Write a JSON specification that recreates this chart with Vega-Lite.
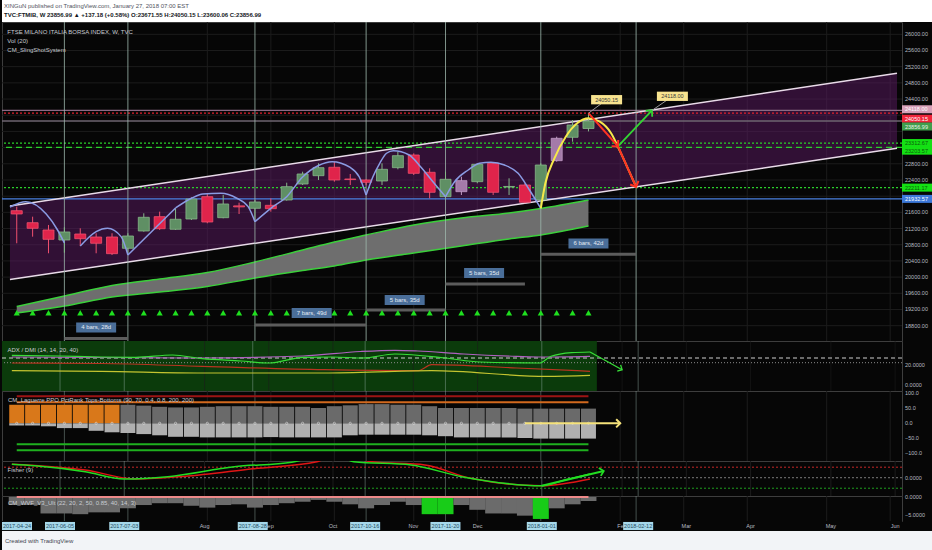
{
  "$schema": "https://vega.github.io/schema/vega-lite/v6.json",
  "background": "#060606",
  "padding": 0,
  "spacing": 0,
  "bounds": "flush",
  "resolve": {"scale": {"color": "independent", "stroke": "independent", "fill": "independent", "strokeDash": "independent"}},
  "config": {
    "font": "Liberation Sans",
    "view": {"stroke": "#3d3d3d", "fill": "#060606"},
    "legend": {"disable": true},
    "title": {"anchor": "start", "fontWeight": "normal", "fontSize": 6, "color": "#c9ccd3", "dx": 6}
  },
  "datasets": {
    "candles": [
      {"d":"2017-05-15","o":21641,"h":21740,"l":20836,"c":21560,"k":"dn"},
      {"d":"2017-05-22","o":21345,"h":21493,"l":20999,"c":21206,"k":"dn"},
      {"d":"2017-05-29","o":21164,"h":21288,"l":20589,"c":20934,"k":"dn"},
      {"d":"2017-06-05","o":20917,"h":21231,"l":20603,"c":21115,"k":"up"},
      {"d":"2017-06-12","o":21065,"h":21206,"l":20769,"c":20949,"k":"dn"},
      {"d":"2017-06-19","o":20991,"h":21083,"l":20589,"c":20836,"k":"dn"},
      {"d":"2017-06-26","o":20991,"h":21083,"l":20546,"c":20579,"k":"dn"},
      {"d":"2017-07-03","o":20712,"h":21083,"l":20546,"c":21016,"k":"up"},
      {"d":"2017-07-10","o":21140,"h":21577,"l":21123,"c":21478,"k":"up"},
      {"d":"2017-07-17","o":21493,"h":21617,"l":21164,"c":21196,"k":"dn"},
      {"d":"2017-07-24","o":21182,"h":21700,"l":21164,"c":21429,"k":"up"},
      {"d":"2017-07-31","o":21436,"h":21972,"l":21411,"c":21930,"k":"up"},
      {"d":"2017-08-07","o":21987,"h":22071,"l":21330,"c":21362,"k":"dn"},
      {"d":"2017-08-14","o":21468,"h":22029,"l":21453,"c":21807,"k":"up"},
      {"d":"2017-08-21","o":21760,"h":21839,"l":21559,"c":21735,"k":"dn"},
      {"d":"2017-08-28","o":21700,"h":21906,"l":21369,"c":21856,"k":"up"},
      {"d":"2017-09-04","o":21774,"h":21947,"l":21617,"c":21691,"k":"dn"},
      {"d":"2017-09-11","o":21906,"h":22333,"l":21889,"c":22234,"k":"up"},
      {"d":"2017-09-18","o":22301,"h":22605,"l":22276,"c":22548,"k":"up"},
      {"d":"2017-09-25","o":22506,"h":22812,"l":22400,"c":22704,"k":"up"},
      {"d":"2017-10-02","o":22714,"h":22852,"l":22358,"c":22400,"k":"dn"},
      {"d":"2017-10-09","o":22425,"h":22548,"l":22276,"c":22410,"k":"dn"},
      {"d":"2017-10-16","o":22400,"h":22417,"l":22276,"c":22343,"k":"dn"},
      {"d":"2017-10-23","o":22375,"h":22812,"l":22276,"c":22664,"k":"up"},
      {"d":"2017-10-30","o":22704,"h":23099,"l":22664,"c":23000,"k":"up"},
      {"d":"2017-11-06","o":23017,"h":23058,"l":22523,"c":22565,"k":"dn"},
      {"d":"2017-11-13","o":22590,"h":22689,"l":21947,"c":22096,"k":"dn"},
      {"d":"2017-11-20","o":21987,"h":22605,"l":21947,"c":22417,"k":"up"},
      {"d":"2017-11-27","o":22111,"h":22481,"l":22029,"c":22383,"k":"alt"},
      {"d":"2017-12-04","o":22358,"h":22812,"l":22318,"c":22788,"k":"up"},
      {"d":"2017-12-11","o":22812,"h":22837,"l":22029,"c":22096,"k":"dn"},
      {"d":"2017-12-18","o":22225,"h":22442,"l":22029,"c":22240,"k":"up"},
      {"d":"2017-12-25","o":22276,"h":22318,"l":21824,"c":21849,"k":"dn"},
      {"d":"2018-01-01","o":21906,"h":22812,"l":21864,"c":22770,"k":"up"},
      {"d":"2018-01-08","o":22877,"h":23470,"l":22852,"c":23430,"k":"alt"},
      {"d":"2018-01-15","o":23455,"h":23882,"l":23346,"c":23759,"k":"up"},
      {"d":"2018-01-22","o":23671.55,"h":24050.15,"l":23600.06,"c":23856.99,"k":"up"}
    ],
    "pticks": [
      {"v":18800},{"v":19200},{"v":19600},{"v":20000},{"v":20400},{"v":20800},{"v":21200},{"v":21600},{"v":22000},{"v":22400},{"v":22800},{"v":23200},{"v":23600},{"v":24000},{"v":24400},{"v":24800},{"v":25200},{"v":25600},{"v":26000}
    ],
    "ema": [
      {"d":"2017-05-15","e1":19274,"e2":19113},
      {"d":"2017-06-05","e1":19533,"e2":19286},
      {"d":"2017-06-26","e1":19793,"e2":19509},
      {"d":"2017-07-17","e1":19954,"e2":19632},
      {"d":"2017-08-07","e1":20114,"e2":19768},
      {"d":"2017-08-28","e1":20374,"e2":19978},
      {"d":"2017-09-18","e1":20670,"e2":20163},
      {"d":"2017-10-02","e1":20868,"e2":20275},
      {"d":"2017-10-16","e1":21041,"e2":20423},
      {"d":"2017-11-06","e1":21288,"e2":20596},
      {"d":"2017-11-27","e1":21461,"e2":20769},
      {"d":"2017-12-18","e1":21584,"e2":20942},
      {"d":"2018-01-01","e1":21696,"e2":21041},
      {"d":"2018-01-22","e1":21906,"e2":21263}
    ],
    "channel": [
      {"d":"2017-05-12","up":21757,"lo":19941},
      {"d":"2018-06-07","up":25036,"lo":23183}
    ],
    "arcs": [
      {"a":"A","d":"2017-05-12","p":21733},{"a":"A","d":"2017-05-19","p":21864},{"a":"A","d":"2017-05-28","p":21560},{"a":"A","d":"2017-06-02","p":21164},{"a":"A","d":"2017-06-05","p":20843},
      {"a":"B","d":"2017-06-12","p":20769},{"a":"B","d":"2017-06-19","p":21123},{"a":"B","d":"2017-06-24","p":21206},{"a":"B","d":"2017-06-30","p":21000},{"a":"B","d":"2017-07-03","p":20546},
      {"a":"C","d":"2017-07-03","p":20546},{"a":"C","d":"2017-07-24","p":21708},
      {"a":"D","d":"2017-07-24","p":21708},{"a":"D","d":"2017-07-31","p":21948},{"a":"D","d":"2017-08-05","p":22054},{"a":"D","d":"2017-08-13","p":22071},{"a":"D","d":"2017-08-20","p":21948},{"a":"D","d":"2017-08-25","p":21740},{"a":"D","d":"2017-08-28","p":21369},
      {"a":"E","d":"2017-08-28","p":21369},{"a":"E","d":"2017-09-04","p":21700},{"a":"E","d":"2017-09-11","p":21987},{"a":"E","d":"2017-09-18","p":22474},{"a":"E","d":"2017-09-25","p":22758},{"a":"E","d":"2017-10-01","p":22852},{"a":"E","d":"2017-10-09","p":22709},{"a":"E","d":"2017-10-13","p":22474},{"a":"E","d":"2017-10-16","p":22029},
      {"a":"F","d":"2017-10-16","p":22029},{"a":"F","d":"2017-10-19","p":22481},{"a":"F","d":"2017-10-22","p":22812},{"a":"F","d":"2017-10-25","p":23060},{"a":"F","d":"2017-10-28","p":23124},{"a":"F","d":"2017-11-04","p":23018},{"a":"F","d":"2017-11-09","p":22728},{"a":"F","d":"2017-11-15","p":22318},{"a":"F","d":"2017-11-20","p":21987},
      {"a":"G","d":"2017-11-20","p":21987},{"a":"G","d":"2017-11-24","p":22358},{"a":"G","d":"2017-11-30","p":22647},{"a":"G","d":"2017-12-05","p":22812},{"a":"G","d":"2017-12-10","p":22837},{"a":"G","d":"2017-12-16","p":22770},{"a":"G","d":"2017-12-22","p":22565},{"a":"G","d":"2017-12-27","p":22153},{"a":"G","d":"2018-01-01","p":21700}
    ],
    "yarc": [
      {"d":"2018-01-01","p":21700},{"d":"2018-01-03","p":22318},{"d":"2018-01-07","p":22936},{"d":"2018-01-12","p":23470},{"d":"2018-01-17","p":23801},{"d":"2018-01-22","p":23924},{"d":"2018-01-27","p":23840},{"d":"2018-02-01","p":23554},{"d":"2018-02-05","p":23099},{"d":"2018-02-09","p":22605},{"d":"2018-02-12","p":22230}
    ],
    "redpath": [
      {"d":"2018-01-22","p":24050.15},{"d":"2018-02-04","p":23230},{"d":"2018-02-12","p":22230}
    ],
    "greenarrow": [
      {"d":"2018-02-04","p":23230},{"d":"2018-02-19","p":24118}
    ],
    "callouts": [
      {"d":"2018-01-30","p":24384,"d2":"2018-01-22","p2":24050.15,"lab":"24050.15"},
      {"d":"2018-02-28","p":24468,"d2":"2018-02-19","p2":24118,"lab":"24118.00"}
    ],
    "measures": [
      {"d":"2017-06-05","d2":"2017-07-03","bp":18480,"ld":"2017-06-19","lp":18755,"lab":"4 bars, 28d"},
      {"d":"2017-08-28","d2":"2017-10-16","bp":18817,"ld":"2017-09-22","lp":19113,"lab":"7 bars, 49d"},
      {"d":"2017-10-16","d2":"2017-11-20","bp":19187,"ld":"2017-11-02","lp":19435,"lab":"5 bars, 35d"},
      {"d":"2017-11-20","d2":"2017-12-25","bp":19830,"ld":"2017-12-07","lp":20102,"lab":"5 bars, 35d"},
      {"d":"2018-01-01","d2":"2018-02-12","bp":20564,"ld":"2018-01-22","lp":20831,"lab":"6 bars, 42d"}
    ],
    "levels": [
      {"p":24118.00,"k":"tgt","lab":"24118.00"},
      {"p":24050.15,"k":"hi","lab":"24050.15"},
      {"p":23856.99,"k":"last","lab":"23856.99"},
      {"p":23312.67,"k":"g1","lab":"23312.67"},
      {"p":23203.57,"k":"g2","lab":"23203.57"},
      {"p":22211.17,"k":"g3","lab":"22211.17"},
      {"p":21932.57,"k":"base","lab":"21932.57"}
    ],
    "events": [
      {"d":"2017-06-05"},{"d":"2017-07-03"},{"d":"2017-08-28"},{"d":"2017-10-16"},{"d":"2017-11-20"},{"d":"2018-01-01"},{"d":"2018-02-12"}
    ],
    "xboxes": [
      {"d":"2017-04-24","lab":"2017-04-24"},{"d":"2017-06-05","lab":"2017-06-05"},{"d":"2017-07-03","lab":"2017-07-03"},{"d":"2017-08-28","lab":"2017-08-28"},{"d":"2017-10-16","lab":"2017-10-16"},{"d":"2017-11-20","lab":"2017-11-20"},{"d":"2018-01-01","lab":"2018-01-01"},{"d":"2018-02-12","lab":"2018-02-12"}
    ],
    "months": [
      {"d":"2017-08-07","lab":"Aug"},{"d":"2017-09-04","lab":"Sep"},{"d":"2017-10-02","lab":"Oct"},{"d":"2017-11-06","lab":"Nov"},{"d":"2017-12-04","lab":"Dec"},{"d":"2018-02-05","lab":"Feb"},{"d":"2018-03-05","lab":"Mar"},{"d":"2018-04-02","lab":"Apr"},{"d":"2018-05-07","lab":"May"},{"d":"2018-06-04","lab":"Jun"}
    ],
    "adx": [
      {"s":"pur","d":"2017-05-15","v":28},{"s":"pur","d":"2017-06-23","v":27.5},{"s":"pur","d":"2017-08-06","v":27},{"s":"pur","d":"2017-09-19","v":29},{"s":"pur","d":"2017-10-14","v":33.5},{"s":"pur","d":"2017-10-29","v":34.7},{"s":"pur","d":"2017-11-08","v":34},{"s":"pur","d":"2017-11-28","v":31},{"s":"pur","d":"2017-12-21","v":28.7},{"s":"pur","d":"2018-01-01","v":28},{"s":"pur","d":"2018-01-22","v":28.7},
      {"s":"grn","d":"2017-05-15","v":29.7},{"s":"grn","d":"2017-06-05","v":29},{"s":"grn","d":"2017-06-23","v":28},{"s":"grn","d":"2017-07-08","v":27.7},{"s":"grn","d":"2017-07-24","v":30},{"s":"grn","d":"2017-08-06","v":26.3},{"s":"grn","d":"2017-08-23","v":24},{"s":"grn","d":"2017-09-04","v":22},{"s":"grn","d":"2017-09-19","v":27.7},{"s":"grn","d":"2017-10-02","v":28},{"s":"grn","d":"2017-10-15","v":27},{"s":"grn","d":"2017-10-29","v":31},{"s":"grn","d":"2017-11-20","v":27},{"s":"grn","d":"2017-12-05","v":23},{"s":"grn","d":"2017-12-31","v":22},{"s":"grn","d":"2018-01-05","v":28.7},{"s":"grn","d":"2018-01-14","v":32.3},{"s":"grn","d":"2018-01-22","v":33},
      {"s":"red","d":"2017-05-15","v":22},{"s":"red","d":"2017-06-23","v":21.5},{"s":"red","d":"2017-08-06","v":18.7},{"s":"red","d":"2017-09-28","v":15.3},{"s":"red","d":"2017-11-08","v":14.3},{"s":"red","d":"2017-11-14","v":20.3},{"s":"red","d":"2017-12-21","v":17},{"s":"red","d":"2018-01-22","v":13.7},
      {"s":"yel","d":"2017-05-15","v":14.3},{"s":"yel","d":"2017-06-23","v":13.7},{"s":"yel","d":"2017-08-06","v":12},{"s":"yel","d":"2017-09-28","v":12},{"s":"yel","d":"2017-11-14","v":14.3},{"s":"yel","d":"2018-01-03","v":8.7},{"s":"yel","d":"2018-01-22","v":9.7}
    ],
    "lag": [
      {"d":"2017-05-15","t":62,"b":-7,"k":"or"},{"d":"2017-05-22","t":62,"b":-7,"k":"or"},{"d":"2017-05-29","t":62,"b":-10,"k":"or"},{"d":"2017-06-05","t":62,"b":-16,"k":"or"},{"d":"2017-06-12","t":62,"b":-16,"k":"or"},{"d":"2017-06-19","t":62,"b":-25,"k":"or"},{"d":"2017-06-26","t":62,"b":-30,"k":"or"},
      {"d":"2017-07-03","t":62,"b":-32,"k":"gr"},{"d":"2017-07-10","t":59,"b":-36,"k":"gr"},{"d":"2017-07-17","t":55,"b":-40,"k":"gr"},{"d":"2017-07-24","t":53,"b":-45,"k":"gr"},{"d":"2017-07-31","t":53,"b":-45,"k":"gr"},{"d":"2017-08-07","t":55,"b":-47,"k":"gr"},{"d":"2017-08-14","t":57,"b":-47,"k":"gr"},{"d":"2017-08-21","t":57,"b":-47,"k":"gr"},{"d":"2017-08-28","t":57,"b":-47,"k":"gr"},{"d":"2017-09-04","t":55,"b":-46,"k":"gr"},{"d":"2017-09-11","t":55,"b":-47,"k":"gr"},{"d":"2017-09-18","t":55,"b":-47,"k":"gr"},{"d":"2017-09-25","t":51,"b":-47,"k":"gr"},{"d":"2017-10-02","t":57,"b":-47,"k":"gr"},{"d":"2017-10-09","t":60,"b":-40,"k":"gr"},{"d":"2017-10-16","t":64,"b":-38,"k":"gr"},{"d":"2017-10-23","t":64,"b":-38,"k":"gr"},{"d":"2017-10-30","t":62,"b":-38,"k":"gr"},{"d":"2017-11-06","t":62,"b":-38,"k":"gr"},{"d":"2017-11-13","t":57,"b":-40,"k":"gr"},{"d":"2017-11-20","t":51,"b":-43,"k":"gr"},{"d":"2017-11-27","t":51,"b":-47,"k":"gr"},{"d":"2017-12-04","t":51,"b":-47,"k":"gr"},{"d":"2017-12-11","t":51,"b":-47,"k":"gr"},{"d":"2017-12-18","t":51,"b":-47,"k":"gr"},{"d":"2017-12-25","t":49,"b":-49,"k":"gr"},{"d":"2018-01-01","t":49,"b":-51,"k":"gr"},{"d":"2018-01-08","t":49,"b":-51,"k":"gr"},{"d":"2018-01-15","t":49,"b":-51,"k":"gr"},{"d":"2018-01-22","t":49,"b":-51,"k":"gr"}
    ],
    "fisher": [
      {"s":"r","d":"2017-05-15","v":1.28},{"s":"r","d":"2017-06-16","v":0.73},{"s":"r","d":"2017-07-08","v":-0.12},{"s":"r","d":"2017-07-29","v":0.12},{"s":"r","d":"2017-08-28","v":0.85},{"s":"r","d":"2017-09-25","v":1.52},{"s":"r","d":"2017-10-03","v":2.2},{"s":"r","d":"2017-10-19","v":1.52},{"s":"r","d":"2017-11-11","v":1.21},{"s":"r","d":"2017-12-01","v":-0.06},{"s":"r","d":"2018-01-01","v":-0.76},{"s":"r","d":"2018-01-22","v":-0.12},
      {"s":"g","d":"2017-05-15","v":1.28},{"s":"g","d":"2017-05-25","v":1.14},{"s":"g","d":"2017-06-16","v":0.57},{"s":"g","d":"2017-07-03","v":-0.12},{"s":"g","d":"2017-07-22","v":0.1},{"s":"g","d":"2017-08-20","v":1.05},{"s":"g","d":"2017-09-14","v":1.47},{"s":"g","d":"2017-09-22","v":1.9},{"s":"g","d":"2017-10-01","v":2.4},{"s":"g","d":"2017-10-11","v":1.52},{"s":"g","d":"2017-11-05","v":1.21},{"s":"g","d":"2017-11-27","v":0.1},{"s":"g","d":"2018-01-01","v":-0.76},{"s":"g","d":"2018-01-11","v":-0.22},{"s":"g","d":"2018-01-22","v":0.35}
    ],
    "wvf": [
      {"d":"2017-05-15","v":-2.2,"k":"n"},{"d":"2017-05-22","v":-2.2,"k":"n"},{"d":"2017-05-29","v":-4.5,"k":"n"},{"d":"2017-06-05","v":-4.5,"k":"n"},{"d":"2017-06-12","v":-4.7,"k":"n"},{"d":"2017-06-19","v":-4.2,"k":"n"},{"d":"2017-06-26","v":-4.2,"k":"n"},{"d":"2017-07-03","v":-3.1,"k":"n"},{"d":"2017-07-10","v":-2.2,"k":"n"},{"d":"2017-07-17","v":-1.7,"k":"n"},{"d":"2017-07-24","v":-1.7,"k":"n"},{"d":"2017-07-31","v":-2.4,"k":"n"},{"d":"2017-08-07","v":-2.9,"k":"n"},{"d":"2017-08-14","v":-2.2,"k":"n"},{"d":"2017-08-21","v":-2.0,"k":"n"},{"d":"2017-08-28","v":-2.9,"k":"n"},{"d":"2017-09-04","v":-2.2,"k":"n"},{"d":"2017-09-11","v":-1.7,"k":"n"},{"d":"2017-09-18","v":-1.3,"k":"n"},{"d":"2017-09-25","v":-0.8,"k":"n"},{"d":"2017-10-02","v":-1.3,"k":"n"},{"d":"2017-10-09","v":-2.0,"k":"n"},{"d":"2017-10-16","v":-3.1,"k":"n"},{"d":"2017-10-23","v":-2.2,"k":"n"},{"d":"2017-10-30","v":-1.3,"k":"n"},{"d":"2017-11-06","v":-2.2,"k":"n"},{"d":"2017-11-13","v":-4.7,"k":"hi"},{"d":"2017-11-20","v":-4.7,"k":"hi"},{"d":"2017-11-27","v":-2.2,"k":"n"},{"d":"2017-12-04","v":-3.5,"k":"n"},{"d":"2017-12-11","v":-4.5,"k":"n"},{"d":"2017-12-18","v":-4.5,"k":"n"},{"d":"2017-12-25","v":-5.1,"k":"n"},{"d":"2018-01-01","v":-6.0,"k":"hi"},{"d":"2018-01-08","v":-3.1,"k":"n"},{"d":"2018-01-15","v":-2.0,"k":"n"},{"d":"2018-01-22","v":-1.1,"k":"n"}
    ]
  },
  "vconcat": [
    {
      "width": 932, "height": 22,
      "view": {"fill": "#ffffff", "stroke": null},
      "title": {"text": "XINGuN published on TradingView.com, January 27, 2018 07:00 EST", "subtitle": "TVC:FTMIB, W  23856.99 ▲ +137.18 (+0.58%)  O:23671.55  H:24050.15  L:23600.06  C:23856.99", "color": "#50535e", "subtitleColor": "#131722", "subtitleFontWeight": "bold", "subtitleFontSize": 6, "fontSize": 6, "subtitlePadding": 3, "offset": -18, "dx": 2},
      "data": {"values": [{}]},
      "mark": {"type": "text"},
      "encoding": {"text": {"value": ""}}
    },
    {
      "width": 900, "height": 319,
      "title": {"text": ["FTSE MILANO ITALIA BORSA INDEX, W, TVC", "Vol (20)", "CM_SlingShotSystem"], "lineHeight": 9, "offset": -31},
      "resolve": {"scale": {"stroke": "independent", "fill": "independent", "color": "independent"}},
      "layer": [
        {"data": {"name": "months"}, "mark": {"type": "rule", "color": "#1c1c1c"},
         "encoding": {"x": {"field": "d", "type": "temporal", "axis": null, "scale": {"domain": [{"year":2017,"month":5,"date":10,"hours":17,"utc":true},{"year":2018,"month":6,"date":7,"utc":true}]}}}},
        {"data": {"name": "pticks"}, "mark": {"type": "rule", "color": "#1c1c1c"},
         "encoding": {"y": {"field": "v", "type": "quantitative", "axis": null, "scale": {"domain": [18421, 26304], "nice": false, "zero": false}}}},
        {"data": {"name": "channel"}, "mark": {"type": "area", "color": "#5c1a63", "opacity": 0.5},
         "encoding": {
           "x": {"field": "d", "type": "temporal", "axis": null},
           "y": {"field": "up", "type": "quantitative", "axis": null},
           "y2": {"field": "lo"}}},
        {"data": {"name": "levels"}, "mark": {"type": "rule", "strokeWidth": 1.3},
         "encoding": {
           "y": {"field": "p", "type": "quantitative", "axis": null},
           "stroke": {"field": "k", "type": "nominal", "scale": {"domain": ["tgt","hi","last","g1","g2","g3","base"], "range": ["#8a6a84","#e0202e","#6e6470","#2bd02b","#2bd02b","#2bd02b","#4a80e0"]}},
           "strokeDash": {"field": "k", "type": "nominal", "scale": {"domain": ["tgt","hi","last","g1","g2","g3","base"], "range": [[1,0],[2,2],[1,0],[2,2],[6,4],[2,2],[1,0]]}}}},
        {"data": {"name": "channel"}, "mark": {"type": "line", "color": "#e9dbe9", "strokeWidth": 1.5},
         "encoding": {"x": {"field": "d", "type": "temporal", "axis": null}, "y": {"field": "up", "type": "quantitative", "axis": null}}},
        {"data": {"name": "channel"}, "mark": {"type": "line", "color": "#e9dbe9", "strokeWidth": 1.5},
         "encoding": {"x": {"field": "d", "type": "temporal", "axis": null}, "y": {"field": "lo", "type": "quantitative", "axis": null}}},
        {"data": {"name": "ema"}, "mark": {"type": "area", "color": "#6e6e6e", "interpolate": "monotone"},
         "encoding": {"x": {"field": "d", "type": "temporal", "axis": null}, "y": {"field": "e1", "type": "quantitative", "axis": null}, "y2": {"field": "e2"}}},
        {"data": {"name": "ema"}, "mark": {"type": "line", "color": "#3ccf3c", "strokeWidth": 1.5, "interpolate": "monotone"},
         "encoding": {"x": {"field": "d", "type": "temporal", "axis": null}, "y": {"field": "e1", "type": "quantitative", "axis": null}}},
        {"data": {"name": "ema"}, "mark": {"type": "line", "color": "#3ccf3c", "strokeWidth": 1.5, "interpolate": "monotone"},
         "encoding": {"x": {"field": "d", "type": "temporal", "axis": null}, "y": {"field": "e2", "type": "quantitative", "axis": null}}},
        {"data": {"name": "events"}, "mark": {"type": "rule", "color": "#9db8ad", "opacity": 0.8},
         "encoding": {"x": {"field": "d", "type": "temporal", "axis": null}}},
        {"data": {"name": "measures"}, "mark": {"type": "rule", "color": "#5c5c5c", "strokeWidth": 3},
         "encoding": {"x": {"field": "d", "type": "temporal", "axis": null}, "x2": {"field": "d2"}, "y": {"field": "bp", "type": "quantitative", "axis": null}}},
        {"data": {"name": "candles"}, "mark": {"type": "point", "shape": "triangle-up", "filled": true, "size": 38, "color": "#1fe01f", "opacity": 1},
         "encoding": {"x": {"field": "d", "type": "temporal", "axis": null}, "y": {"datum": 19120, "type": "quantitative", "axis": null}}},
        {"data": {"name": "measures"}, "mark": {"type": "point", "shape": "M-1,-0.25L1,-0.25L1,0.25L-1,0.25Z", "filled": true, "size": 1600, "color": "#4a6e99", "opacity": 1},
         "encoding": {"x": {"field": "ld", "type": "temporal", "axis": null}, "y": {"field": "lp", "type": "quantitative", "axis": null}}},
        {"data": {"name": "measures"}, "mark": {"type": "text", "fontSize": 6, "color": "#e3eaf3"},
         "encoding": {"x": {"field": "ld", "type": "temporal", "axis": null}, "y": {"field": "lp", "type": "quantitative", "axis": null}, "text": {"field": "lab"}}},
        {"data": {"name": "candles"}, "mark": {"type": "rule", "strokeWidth": 1},
         "encoding": {"x": {"field": "d", "type": "temporal", "axis": null}, "y": {"field": "l", "type": "quantitative", "axis": null}, "y2": {"field": "h"},
           "stroke": {"field": "k", "type": "nominal", "scale": {"domain": ["up","dn","alt"], "range": ["#86b889","#f0506f","#c29cc6"]}}}},
        {"data": {"name": "candles"}, "mark": {"type": "bar", "size": 11, "strokeWidth": 0.8},
         "encoding": {"x": {"field": "d", "type": "temporal", "axis": null}, "y": {"field": "o", "type": "quantitative", "axis": null}, "y2": {"field": "c"},
           "fill": {"field": "k", "type": "nominal", "scale": {"domain": ["up","dn","alt"], "range": ["#5f8f64","#e0244b","#a47aa9"]}},
           "stroke": {"field": "k", "type": "nominal", "scale": {"domain": ["up","dn","alt"], "range": ["#86b889","#f0506f","#c29cc6"]}}}},
        {"data": {"name": "arcs"}, "mark": {"type": "line", "color": "#8a9be3", "strokeWidth": 1.5, "interpolate": "monotone"},
         "encoding": {"x": {"field": "d", "type": "temporal", "axis": null}, "y": {"field": "p", "type": "quantitative", "axis": null}, "detail": {"field": "a"}}},
        {"data": {"name": "yarc"}, "mark": {"type": "line", "color": "#f6e94a", "strokeWidth": 2, "interpolate": "monotone"},
         "encoding": {"x": {"field": "d", "type": "temporal", "axis": null}, "y": {"field": "p", "type": "quantitative", "axis": null}}},
        {"data": {"name": "redpath"}, "mark": {"type": "line", "color": "#ff3322", "strokeWidth": 2},
         "encoding": {"x": {"field": "d", "type": "temporal", "axis": null}, "y": {"field": "p", "type": "quantitative", "axis": null}}},
        {"data": {"name": "greenarrow"}, "mark": {"type": "line", "color": "#33d633", "strokeWidth": 1.8},
         "encoding": {"x": {"field": "d", "type": "temporal", "axis": null}, "y": {"field": "p", "type": "quantitative", "axis": null}}},
        {"data": {"values": [{"d": "2018-02-04", "p": 23230}]}, "mark": {"type": "point", "shape": "M-0.9,0.9L0,0L0.9,0.9", "filled": false, "size": 100, "strokeWidth": 2, "color": "#ff3322", "opacity": 1, "angle": 137},
         "encoding": {"x": {"field": "d", "type": "temporal", "axis": null}, "y": {"field": "p", "type": "quantitative", "axis": null}}},
        {"data": {"values": [{"d": "2018-02-12", "p": 22230}]}, "mark": {"type": "point", "shape": "M-0.9,0.9L0,0L0.9,0.9", "filled": false, "size": 100, "strokeWidth": 2, "color": "#ff3322", "opacity": 1, "angle": 157},
         "encoding": {"x": {"field": "d", "type": "temporal", "axis": null}, "y": {"field": "p", "type": "quantitative", "axis": null}}},
        {"data": {"values": [{"d": "2018-02-19", "p": 24118}]}, "mark": {"type": "point", "shape": "M-0.9,0.9L0,0L0.9,0.9", "filled": false, "size": 100, "strokeWidth": 1.8, "color": "#33d633", "opacity": 1, "angle": 43},
         "encoding": {"x": {"field": "d", "type": "temporal", "axis": null}, "y": {"field": "p", "type": "quantitative", "axis": null}}},
        {"data": {"name": "callouts"}, "mark": {"type": "rule", "color": "#9a9a9a", "strokeWidth": 1},
         "encoding": {"x": {"field": "d", "type": "temporal", "axis": null}, "y": {"field": "p", "type": "quantitative", "axis": null}, "x2": {"field": "d2"}, "y2": {"field": "p2"}}},
        {"data": {"name": "callouts"}, "mark": {"type": "point", "shape": "M-1,-0.3L1,-0.3L1,0.3L-1,0.3Z", "filled": true, "size": 961, "color": "#f7e38f", "opacity": 1},
         "encoding": {"x": {"field": "d", "type": "temporal", "axis": null}, "y": {"field": "p", "type": "quantitative", "axis": null}}},
        {"data": {"name": "callouts"}, "mark": {"type": "text", "fontSize": 5.5, "color": "#3a3a3a"},
         "encoding": {"x": {"field": "d", "type": "temporal", "axis": null}, "y": {"field": "p", "type": "quantitative", "axis": null}, "text": {"field": "lab"}}},
        {"data": {"name": "pticks"}, "transform": [{"filter": "indexof([22000, 23200, 23600, 24000], datum.v) < 0"}],
         "mark": {"type": "text", "fontSize": 5.5, "dx": 3, "align": "left", "color": "#b8bbc2"},
         "encoding": {"x": {"value": "width"}, "y": {"field": "v", "type": "quantitative", "axis": null}, "text": {"field": "v", "type": "quantitative", "format": ".2f"}}},
        {"data": {"name": "levels"}, "transform": [{"filter": {"field": "k", "oneOf": ["g1", "g3", "base"]}}],
         "mark": {"type": "point", "shape": "M0,-0.258L2,-0.258L2,0.258L0,0.258Z", "filled": true, "size": 961, "opacity": 1, "strokeWidth": 0},
         "encoding": {"x": {"value": "width"}, "y": {"field": "p", "type": "quantitative", "axis": null},
           "fill": {"field": "k", "type": "nominal", "scale": {"domain": ["tgt","hi","last","g1","g2","g3","base"], "range": ["#d8a1b9","#f0263b","#3f9e4c","#14e014","#14e014","#14e014","#3c78d8"]}}}},
        {"data": {"name": "levels"}, "transform": [{"filter": {"field": "k", "oneOf": ["tgt"]}}],
         "mark": {"type": "point", "shape": "M0,-0.335L2,-0.335L2,0.181L0,0.181Z", "filled": true, "size": 961, "opacity": 1, "strokeWidth": 0},
         "encoding": {"x": {"value": "width"}, "y": {"field": "p", "type": "quantitative", "axis": null},
           "fill": {"field": "k", "type": "nominal", "scale": {"domain": ["tgt","hi","last","g1","g2","g3","base"], "range": ["#d8a1b9","#f0263b","#3f9e4c","#14e014","#14e014","#14e014","#3c78d8"]}}}},
        {"data": {"name": "levels"}, "transform": [{"filter": {"field": "k", "oneOf": ["hi", "last"]}}],
         "mark": {"type": "point", "shape": "M0,0.097L2,0.097L2,0.613L0,0.613Z", "filled": true, "size": 961, "opacity": 1, "strokeWidth": 0},
         "encoding": {"x": {"value": "width"}, "y": {"field": "p", "type": "quantitative", "axis": null},
           "fill": {"field": "k", "type": "nominal", "scale": {"domain": ["tgt","hi","last","g1","g2","g3","base"], "range": ["#d8a1b9","#f0263b","#3f9e4c","#14e014","#14e014","#14e014","#3c78d8"]}}}},
        {"data": {"name": "levels"}, "transform": [{"filter": {"field": "k", "oneOf": ["g2"]}}],
         "mark": {"type": "point", "shape": "M0,-0.052L2,-0.052L2,0.464L0,0.464Z", "filled": true, "size": 961, "opacity": 1, "strokeWidth": 0},
         "encoding": {"x": {"value": "width"}, "y": {"field": "p", "type": "quantitative", "axis": null},
           "fill": {"field": "k", "type": "nominal", "scale": {"domain": ["tgt","hi","last","g1","g2","g3","base"], "range": ["#d8a1b9","#f0263b","#3f9e4c","#14e014","#14e014","#14e014","#3c78d8"]}}}},
        {"data": {"name": "levels"}, "transform": [{"filter": {"field": "k", "oneOf": ["g1", "g3", "base"]}}],
         "mark": {"type": "text", "fontSize": 5.5, "dx": 3, "align": "left"},
         "encoding": {"x": {"value": "width"}, "y": {"field": "p", "type": "quantitative", "axis": null}, "text": {"field": "lab"},
           "color": {"field": "k", "type": "nominal", "scale": {"domain": ["tgt","hi","last","g1","g2","g3","base"], "range": ["#ffffff","#ffffff","#e6f4e6","#0a5c0a","#0a5c0a","#0a5c0a","#ffffff"]}}}},
        {"data": {"name": "levels"}, "transform": [{"filter": {"field": "k", "oneOf": ["tgt"]}}],
         "mark": {"type": "text", "fontSize": 5.5, "dx": 3, "dy": -1.2, "align": "left"},
         "encoding": {"x": {"value": "width"}, "y": {"field": "p", "type": "quantitative", "axis": null}, "text": {"field": "lab"},
           "color": {"field": "k", "type": "nominal", "scale": {"domain": ["tgt","hi","last","g1","g2","g3","base"], "range": ["#ffffff","#ffffff","#e6f4e6","#0a5c0a","#0a5c0a","#0a5c0a","#ffffff"]}}}},
        {"data": {"name": "levels"}, "transform": [{"filter": {"field": "k", "oneOf": ["hi", "last"]}}],
         "mark": {"type": "text", "fontSize": 5.5, "dx": 3, "dy": 5.5, "align": "left"},
         "encoding": {"x": {"value": "width"}, "y": {"field": "p", "type": "quantitative", "axis": null}, "text": {"field": "lab"},
           "color": {"field": "k", "type": "nominal", "scale": {"domain": ["tgt","hi","last","g1","g2","g3","base"], "range": ["#ffffff","#ffffff","#e6f4e6","#0a5c0a","#0a5c0a","#0a5c0a","#ffffff"]}}}},
        {"data": {"name": "levels"}, "transform": [{"filter": {"field": "k", "oneOf": ["g2"]}}],
         "mark": {"type": "text", "fontSize": 5.5, "dx": 3, "dy": 3.2, "align": "left"},
         "encoding": {"x": {"value": "width"}, "y": {"field": "p", "type": "quantitative", "axis": null}, "text": {"field": "lab"},
           "color": {"field": "k", "type": "nominal", "scale": {"domain": ["tgt","hi","last","g1","g2","g3","base"], "range": ["#ffffff","#ffffff","#e6f4e6","#0a5c0a","#0a5c0a","#0a5c0a","#ffffff"]}}}}
      ]
    },
    {
      "width": 900, "height": 50,
      "title": {"text": "ADX / DMI (14, 14, 20, 40)", "offset": -12},
      "layer": [
        {"data": {"values": [{"d": "2017-05-08", "d2": "2018-01-25"}]}, "mark": {"type": "rect", "color": "#0b3b0b", "clip": true},
         "encoding": {"x": {"field": "d", "type": "temporal", "axis": null, "scale": {"domain": [{"year":2017,"month":5,"date":10,"hours":17,"utc":true},{"year":2018,"month":6,"date":7,"utc":true}]}}, "x2": {"field": "d2"},
           "y": {"datum": -6, "type": "quantitative", "axis": null, "scale": {"domain": [-6, 44], "nice": false, "zero": false}}, "y2": {"datum": 44}}},
        {"data": {"name": "months"}, "mark": {"type": "rule", "color": "#1c1c1c", "opacity": 0.6},
         "encoding": {"x": {"field": "d", "type": "temporal", "axis": null}}},
        {"data": {"name": "events"}, "mark": {"type": "rule", "color": "#93ada3", "opacity": 0.45},
         "encoding": {"x": {"field": "d", "type": "temporal", "axis": null}}},
        {"data": {"values": [{"v": 27}]}, "mark": {"type": "rule", "color": "#cfcfcf", "strokeDash": [4, 3], "strokeWidth": 1},
         "encoding": {"y": {"field": "v", "type": "quantitative", "axis": null}}},
        {"data": {"values": [{"v": 22.3}]}, "mark": {"type": "rule", "color": "#8a8a8a", "strokeDash": [1, 2], "strokeWidth": 1},
         "encoding": {"y": {"field": "v", "type": "quantitative", "axis": null}}},
        {"data": {"name": "adx"}, "mark": {"type": "line", "strokeWidth": 1.2, "interpolate": "monotone"},
         "encoding": {"x": {"field": "d", "type": "temporal", "axis": null},
           "y": {"field": "v", "type": "quantitative", "axis": null},
           "color": {"field": "s", "type": "nominal", "scale": {"domain": ["pur","grn","red","yel"], "range": ["#b060c0","#38dd38","#b83420","#c4c430"]}}}},
        {"data": {"values": [{"d": "2018-01-22", "v": 33}, {"d": "2018-02-05", "v": 15.3}]}, "mark": {"type": "line", "color": "#38dd38", "strokeWidth": 1.3},
         "encoding": {"x": {"field": "d", "type": "temporal", "axis": null}, "y": {"field": "v", "type": "quantitative", "axis": null}}},
        {"data": {"values": [{"d": "2018-02-05", "v": 15.3}]}, "mark": {"type": "point", "shape": "M-0.9,0.9L0,0L0.9,0.9", "filled": false, "size": 64, "strokeWidth": 1.3, "color": "#38dd38", "opacity": 1, "angle": 118},
         "encoding": {"x": {"field": "d", "type": "temporal", "axis": null}, "y": {"field": "v", "type": "quantitative", "axis": null}}},
        {"data": {"values": [{"v": 0}, {"v": 20}]}, "mark": {"type": "text", "fontSize": 5.5, "dx": 3, "align": "left", "color": "#b8bbc2"},
         "encoding": {"x": {"value": "width"}, "y": {"field": "v", "type": "quantitative", "axis": null}, "text": {"field": "v", "type": "quantitative", "format": ".4f"}}}
      ]
    },
    {
      "width": 900, "height": 70,
      "title": {"text": "CM_Laguerre PPO PctRank Tops-Bottoms (90, 70, 0.4, 0.8, 200, 200)", "offset": -12},
      "layer": [
        {"data": {"name": "months"}, "mark": {"type": "rule", "color": "#1c1c1c"},
         "encoding": {"x": {"field": "d", "type": "temporal", "axis": null, "scale": {"domain": [{"year":2017,"month":5,"date":10,"hours":17,"utc":true},{"year":2018,"month":6,"date":7,"utc":true}]}}}},
        {"data": {"name": "events"}, "mark": {"type": "rule", "color": "#93ada3", "opacity": 0.45},
         "encoding": {"x": {"field": "d", "type": "temporal", "axis": null}}},
        {"data": {"name": "lag"}, "mark": {"type": "bar", "size": 15},
         "encoding": {"x": {"field": "d", "type": "temporal", "axis": null},
           "y": {"field": "t", "type": "quantitative", "axis": null, "scale": {"domain": [-125.7, 107.7], "nice": false, "zero": false}},
           "y2": {"datum": 0},
           "color": {"field": "k", "type": "nominal", "scale": {"domain": ["or", "gr"], "range": ["#d9781a", "#6a6a6a"]}}}},
        {"data": {"name": "lag"}, "mark": {"type": "bar", "size": 15, "color": "#b0b0b0"},
         "encoding": {"x": {"field": "d", "type": "temporal", "axis": null}, "y": {"field": "b", "type": "quantitative", "axis": null}, "y2": {"datum": 0}}},
        {"data": {"name": "lag"}, "mark": {"type": "point", "shape": "circle", "filled": false, "size": 5, "strokeWidth": 0.6, "color": "#dddddd", "opacity": 1},
         "encoding": {"x": {"field": "d", "type": "temporal", "axis": null}, "y": {"datum": 0, "type": "quantitative", "axis": null}}},
        {"data": {"values": [{"d": "2017-05-15", "d2": "2018-01-22", "v": 90, "k": "r"}, {"d": "2017-05-15", "d2": "2018-01-22", "v": 70, "k": "o"}, {"d": "2017-05-15", "d2": "2018-01-22", "v": -70, "k": "g"}, {"d": "2017-05-15", "d2": "2018-01-22", "v": -90, "k": "g"}]},
         "mark": {"type": "rule", "strokeWidth": 2},
         "encoding": {"x": {"field": "d", "type": "temporal", "axis": null}, "x2": {"field": "d2"}, "y": {"field": "v", "type": "quantitative", "axis": null},
           "stroke": {"field": "k", "type": "nominal", "scale": {"domain": ["r", "o", "g"], "range": ["#9c1414", "#d2691e", "#1fb01f"]}}}},
        {"data": {"values": [{"d": "2017-12-25", "v": 0}, {"d": "2018-02-05", "v": 0}]}, "mark": {"type": "line", "color": "#f5e27a", "strokeWidth": 2},
         "encoding": {"x": {"field": "d", "type": "temporal", "axis": null}, "y": {"field": "v", "type": "quantitative", "axis": null}}},
        {"data": {"values": [{"d": "2018-02-05", "v": 0}]}, "mark": {"type": "point", "shape": "M-0.9,0.9L0,0L0.9,0.9", "filled": false, "size": 81, "strokeWidth": 2, "color": "#f5e27a", "opacity": 1, "angle": 90},
         "encoding": {"x": {"field": "d", "type": "temporal", "axis": null}, "y": {"field": "v", "type": "quantitative", "axis": null}}},
        {"data": {"values": [{"v": -100}, {"v": -50}, {"v": 0}, {"v": 50}, {"v": 100}]}, "mark": {"type": "text", "fontSize": 5.5, "dx": 3, "align": "left", "color": "#b8bbc2"},
         "encoding": {"x": {"value": "width"}, "y": {"field": "v", "type": "quantitative", "axis": null}, "text": {"field": "v", "type": "quantitative", "format": ".1f"}}}
      ]
    },
    {
      "width": 900, "height": 35,
      "title": {"text": "Fisher (9)", "offset": -12},
      "layer": [
        {"data": {"name": "months"}, "mark": {"type": "rule", "color": "#1c1c1c"},
         "encoding": {"x": {"field": "d", "type": "temporal", "axis": null, "scale": {"domain": [{"year":2017,"month":5,"date":10,"hours":17,"utc":true},{"year":2018,"month":6,"date":7,"utc":true}]}}}},
        {"data": {"name": "events"}, "mark": {"type": "rule", "color": "#93ada3", "opacity": 0.45},
         "encoding": {"x": {"field": "d", "type": "temporal", "axis": null}}},
        {"data": {"values": [{"v": 1, "k": "r"}, {"v": 0, "k": "z"}, {"v": -1, "k": "g"}]}, "mark": {"type": "rule", "strokeDash": [2, 2], "strokeWidth": 1},
         "encoding": {"y": {"field": "v", "type": "quantitative", "axis": null, "scale": {"domain": [-1.74, 1.59], "nice": false, "zero": false}},
           "stroke": {"field": "k", "type": "nominal", "scale": {"domain": ["r", "z", "g"], "range": ["#c62828", "#7a7a7a", "#1e9e1e"]}}}},
        {"data": {"name": "fisher"}, "mark": {"type": "line", "strokeWidth": 1.5, "interpolate": "monotone", "clip": true},
         "encoding": {"x": {"field": "d", "type": "temporal", "axis": null}, "y": {"field": "v", "type": "quantitative", "axis": null},
           "color": {"field": "s", "type": "nominal", "scale": {"domain": ["r", "g"], "range": ["#e01515", "#22dd22"]}}}},
        {"data": {"values": [{"d": "2018-01-01", "v": -0.76}, {"d": "2018-01-28", "v": 0.64}]}, "mark": {"type": "line", "color": "#22dd22", "strokeWidth": 2},
         "encoding": {"x": {"field": "d", "type": "temporal", "axis": null}, "y": {"field": "v", "type": "quantitative", "axis": null}}},
        {"data": {"values": [{"d": "2018-01-28", "v": 0.64}]}, "mark": {"type": "point", "shape": "M-0.9,0.9L0,0L0.9,0.9", "filled": false, "size": 81, "strokeWidth": 1.8, "color": "#22dd22", "opacity": 1, "angle": 76},
         "encoding": {"x": {"field": "d", "type": "temporal", "axis": null}, "y": {"field": "v", "type": "quantitative", "axis": null}}},
        {"data": {"values": [{"v": 0}]}, "mark": {"type": "text", "fontSize": 5.5, "dx": 3, "align": "left", "color": "#b8bbc2"},
         "encoding": {"x": {"value": "width"}, "y": {"field": "v", "type": "quantitative", "axis": null}, "text": {"field": "v", "type": "quantitative", "format": ".4f"}}}
      ]
    },
    {
      "width": 900, "height": 25,
      "title": {"text": "CM_WVF_V3_Ult (22, 20, 2, 50, 0.85, 40, 14, 3)", "offset": -11},
      "layer": [
        {"data": {"name": "months"}, "mark": {"type": "rule", "color": "#1c1c1c"},
         "encoding": {"x": {"field": "d", "type": "temporal", "axis": null, "scale": {"domain": [{"year":2017,"month":5,"date":10,"hours":17,"utc":true},{"year":2018,"month":6,"date":7,"utc":true}]}}}},
        {"data": {"name": "events"}, "mark": {"type": "rule", "color": "#93ada3", "opacity": 0.45},
         "encoding": {"x": {"field": "d", "type": "temporal", "axis": null}}},
        {"data": {"name": "wvf"}, "mark": {"type": "bar", "size": 16},
         "encoding": {"x": {"field": "d", "type": "temporal", "axis": null},
           "y": {"field": "v", "type": "quantitative", "axis": null, "scale": {"domain": [-6.56, 0.27], "nice": false, "zero": false}},
           "y2": {"datum": 0},
           "color": {"field": "k", "type": "nominal", "scale": {"domain": ["n", "hi"], "range": ["#6b6b6b", "#18cc18"]}}}},
        {"data": {"values": [{"d": "2017-05-15", "d2": "2018-01-22", "v": 0}]}, "mark": {"type": "rule", "color": "#ee8a8a", "strokeWidth": 2},
         "encoding": {"x": {"field": "d", "type": "temporal", "axis": null}, "x2": {"field": "d2"}, "y": {"field": "v", "type": "quantitative", "axis": null}}},
        {"data": {"values": [{"v": 0}, {"v": -5}]}, "mark": {"type": "text", "fontSize": 5.5, "dx": 3, "align": "left", "color": "#b8bbc2"},
         "encoding": {"x": {"value": "width"}, "y": {"field": "v", "type": "quantitative", "axis": null}, "text": {"field": "v", "type": "quantitative", "format": ".4f"}}}
      ]
    },
    {
      "width": 900, "height": 10,
      "view": {"fill": "#060606", "stroke": null},
      "layer": [
        {"data": {"name": "months"}, "mark": {"type": "text", "fontSize": 5.5, "color": "#b8bbc2"},
         "encoding": {"x": {"field": "d", "type": "temporal", "axis": null, "scale": {"clamp": true, "domain": [{"year":2017,"month":5,"date":10,"hours":17,"utc":true},{"year":2018,"month":6,"date":7,"utc":true}]}}, "text": {"field": "lab"}}},
        {"data": {"name": "xboxes"}, "transform": [{"filter": "datum.lab != '2017-04-24'"}],
         "mark": {"type": "point", "shape": "M-1,-0.27L1,-0.27L1,0.27L-1,0.27Z", "filled": true, "size": 900, "color": "#a6d8ea", "opacity": 1},
         "encoding": {"x": {"field": "d", "type": "temporal", "axis": null}}},
        {"data": {"name": "xboxes"}, "transform": [{"filter": "datum.lab != '2017-04-24'"}],
         "mark": {"type": "text", "fontSize": 5.5, "color": "#1f4d63"},
         "encoding": {"x": {"field": "d", "type": "temporal", "axis": null}, "text": {"field": "lab"}}},
        {"data": {"name": "xboxes"}, "transform": [{"filter": "datum.lab == '2017-04-24'"}],
         "mark": {"type": "point", "shape": "M0,-0.27L2,-0.27L2,0.27L0,0.27Z", "filled": true, "size": 900, "color": "#a6d8ea", "opacity": 1},
         "encoding": {"x": {"field": "d", "type": "temporal", "axis": null}}},
        {"data": {"name": "xboxes"}, "transform": [{"filter": "datum.lab == '2017-04-24'"}],
         "mark": {"type": "text", "fontSize": 5.5, "color": "#1f4d63", "align": "center", "dx": 15},
         "encoding": {"x": {"field": "d", "type": "temporal", "axis": null}, "text": {"field": "lab"}}}
      ]
    },
    {
      "width": 932, "height": 19,
      "view": {"fill": "#f2f4f7", "stroke": null},
      "title": {"text": "Created with  TradingView", "color": "#434651", "offset": -13, "dx": 3},
      "data": {"values": [{}]},
      "mark": {"type": "text"},
      "encoding": {"text": {"value": ""}}
    }
  ]
}
